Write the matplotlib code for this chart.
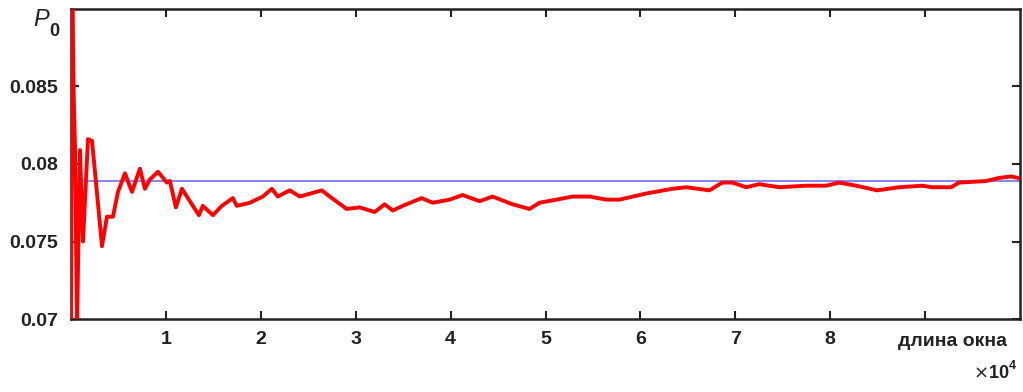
import numpy as np
import matplotlib
matplotlib.use('Agg')
import matplotlib.pyplot as plt

# оценка P0 в зависимости от длины окна
window_len = [0, 105, 263, 421, 632, 947, 1263, 1789, 2211, 2526, 3263, 3789,
              4421, 4947, 5684, 6421, 7263, 7789, 8316, 9158, 10105, 10421,
              11053, 11684, 12211, 13474, 13895, 14947, 15895, 17053, 17474,
              18842, 20211, 21158, 21789, 23053, 24105, 26421, 27263, 29053,
              30421, 32000, 33053, 33895, 34947, 36947, 38105, 39895, 41263,
              43053, 44421, 46526, 48316, 49368, 51158, 52842, 54632, 56421,
              57789, 60632, 63368, 64842, 67263, 68632, 69684, 71158, 72526,
              74632, 77474, 79579, 80947, 82737, 84947, 87263, 89684, 90737,
              92737, 93579, 96421, 97789, 99053, 99789]
p0_est = [0.0690, 0.0950, 0.0850, 0.0811, 0.0695, 0.0809, 0.0750, 0.0816,
          0.0815, 0.0795, 0.0747, 0.0766, 0.0766, 0.0782, 0.0794, 0.0782,
          0.0797, 0.0784, 0.0790, 0.0795, 0.0788, 0.0789, 0.0772, 0.0784,
          0.0779, 0.0767, 0.0773, 0.0767, 0.0773, 0.0778, 0.0773, 0.0775,
          0.0779, 0.0784, 0.0779, 0.0783, 0.0779, 0.0783, 0.0779, 0.0771,
          0.0772, 0.0769, 0.0774, 0.0770, 0.0773, 0.0778, 0.0775, 0.0777,
          0.0780, 0.0776, 0.0779, 0.0774, 0.0771, 0.0775, 0.0777, 0.0779,
          0.0779, 0.0777, 0.0777, 0.0781, 0.0784, 0.0785, 0.0783, 0.0788,
          0.0788, 0.0785, 0.0787, 0.0785, 0.0786, 0.0786, 0.0788, 0.0786,
          0.0783, 0.0785, 0.0786, 0.0785, 0.0785, 0.0788, 0.0789, 0.0791,
          0.0792, 0.0791]
p0_true = 0.0789

xticks = [10000, 20000, 30000, 40000, 50000, 60000, 70000, 80000, 90000]
xtick_labels = ['1', '2', '3', '4', '5', '6', '7', '8', '']
yticks = [0.07, 0.075, 0.08, 0.085]
ytick_labels = ['0.07', '0.075', '0.08', '0.085']

plt.rcParams['font.family'] = ['Liberation Sans', 'DejaVu Sans']

fig = plt.figure(figsize=(10.23, 3.92), dpi=100)
ax = fig.add_axes([71 / 1023, 1 - 319 / 392, (1020 - 71) / 1023, (319 - 9) / 392])

ax.axhline(p0_true, color='#6f6ff0', lw=1.2, zorder=2)
ax.plot(window_len, p0_est, color='#ff0000', lw=2.8, zorder=3)

ax.set_xlim(0, 100000)
ax.set_ylim(0.07, 0.09)
ax.set_xticks(xticks)
ax.set_xticklabels(xtick_labels)
ax.set_yticks(yticks)
ax.set_yticklabels(ytick_labels)
ax.tick_params(direction='in', length=6, width=1.5, color='#222222',
               top=True, right=True, labelsize=14, pad=9)
for lab in ax.get_xticklabels() + ax.get_yticklabels():
    lab.set_fontweight('bold')
    lab.set_color('#222222')
for sp in ax.spines.values():
    sp.set_linewidth(1.8)
    sp.set_color('#222222')

# подписи осей в стиле MATLAB
fig.text(33 / 1023, 1 - 19 / 392, 'P', fontsize=17, style='italic',
         ha='left', va='center', color='#222222')
fig.text(49 / 1023, 1 - 31 / 392, '0', fontsize=13, fontweight='bold',
         ha='left', va='center', color='#222222')
fig.text(952 / 1023, 1 - 341 / 392, 'длина окна', fontsize=14,
         fontweight='bold', ha='center', va='center', color='#222222')
fig.text(1009 / 1023, 1 - 373 / 392, r'$\times$' + '10', fontsize=13,
         fontweight='bold', ha='right', va='center', color='#222222')
fig.text(1009 / 1023, 1 - 366 / 392, '4', fontsize=9, fontweight='bold',
         ha='left', va='center', color='#222222')

fig.savefig('out.png', dpi=100)
